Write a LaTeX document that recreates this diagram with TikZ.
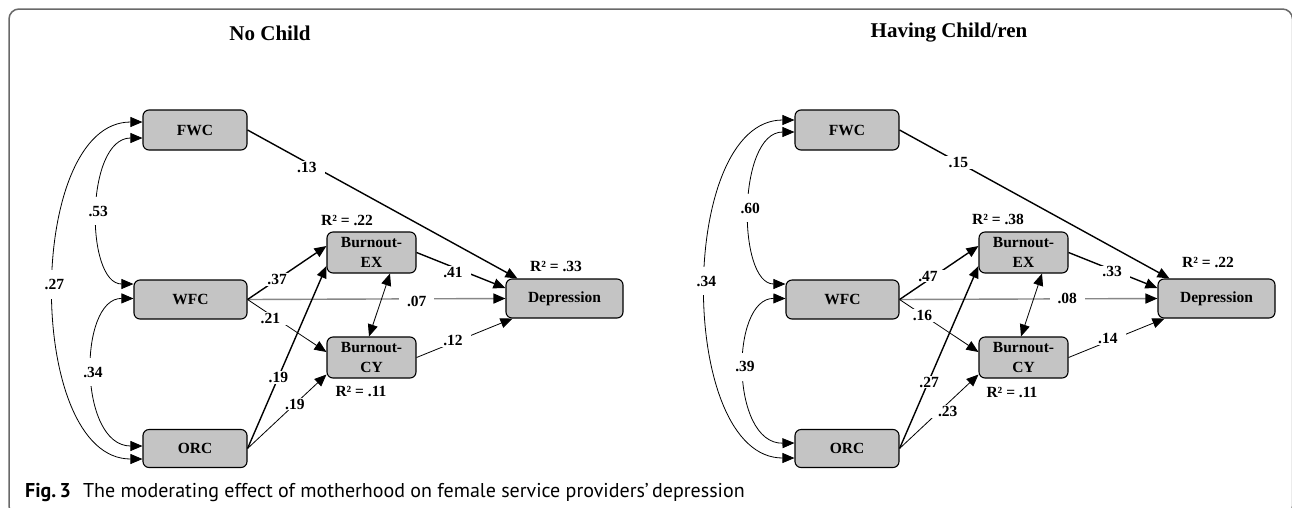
\documentclass[tikz,border=0pt]{standalone}
\usepackage{fontspec}
\setmainfont{Liberation Serif}
\newfontfamily\capfont{PT Sans}
\usetikzlibrary{arrows.meta,calc}
\definecolor{boxgray}{RGB}{196,196,196}
\definecolor{framegray}{RGB}{105,105,105}
\definecolor{linegray}{RGB}{135,135,135}
\tikzset{
  var/.style={draw, line width=1.1pt, fill=boxgray, rounded corners=6pt, inner sep=0pt,
    align=center, font=\fontsize{15.5}{19.5}\selectfont\bfseries},
  lbl/.style={fill=white, inner xsep=8pt, inner ysep=1pt, font=\fontsize{15.5}{17}\selectfont\bfseries},
  clbl/.style={fill=white, inner xsep=1pt, inner ysep=9pt, font=\fontsize{15.5}{17}\selectfont\bfseries},
  rsq/.style={inner sep=0pt, font=\fontsize{15.5}{17}\selectfont\bfseries},
  ttl/.style={inner sep=0pt, font=\fontsize{21}{24}\selectfont\bfseries},
  tipend/.style={-{Triangle[length=12pt,width=10pt]}},
  tipboth/.style={{Triangle[length=12pt,width=10pt]}-{Triangle[length=12pt,width=10pt]}},
  thinpath/.style={line width=0.8pt},
  thickpath/.style={line width=1.4pt},
}
\begin{document}
\begin{tikzpicture}[x=1pt,y=-1pt]
\clip (0,0) rectangle (1292,507);
\fill[white] (0,0) rectangle (1292,507);
\draw[framegray, line width=1.5pt, rounded corners=10pt] (9,9) rectangle (1292.5,516);

% ---------- Left panel ----------
\node[ttl] (Lt) at (270,33) {No Child};
\node[var, minimum width=104pt, minimum height=40pt] (LF) at (195,130) {FWC};
\node[var, minimum width=113pt, minimum height=39pt] (LW) at (190.5,299.5) {WFC};
\node[var, minimum width=104pt, minimum height=38pt] (LO) at (195,448.5) {ORC};
\node[var, minimum width=89pt, minimum height=41pt] (LE) at (371.5,252.5) {Burnout-\\EX};
\node[var, minimum width=89pt, minimum height=41pt] (LC) at (371.5,357.5) {Burnout-\\CY};
\node[var, minimum width=117pt, minimum height=39pt] (LD) at (564.5,298.5) {Depression};
\node[rsq] (LrE) at (347,220) {R² = .22};
\node[rsq] (LrD) at (556,266) {R² = .33};
\node[rsq] (LrC) at (361,391) {R² = .11};

\draw[thickpath, tipend] (LF.east) -- ($(LD.north west)+(12,0)$) node[lbl, pos=0.22, yshift=-5pt] {.13};
\draw[thickpath, tipend] (LE.east) -- ($(LD.west)+(0,-10.5)$) node[lbl, pos=0.41, yshift=-5pt] {.41};
\draw[thickpath, draw=linegray, -{Triangle[length=12pt,width=10pt,black]}] (LW.east) -- (LD.west) node[lbl, pos=0.656, yshift=-3pt] {.07};
\draw[thinpath, tipend] (LC.east) -- ($(LD.south west)+(7,0)$) node[lbl, pos=0.38, yshift=2pt] {.12};
\draw[thinpath, tipboth] ($(LE.south)+(18.5,0)$) -- ($(LC.north)+(-2.5,0)$);
\draw[thickpath, tipend] (LW.east) -- ($(LE.west)+(0,-6.5)$) node[lbl, pos=0.375] {.37};
\draw[thinpath, tipend] (LW.east) -- ($(LC.west)+(0,-5.5)$) node[lbl, pos=0.29, yshift=-4pt] {.21};
\draw[thickpath, tipend] (LO.east) -- ($(LE.west)+(0,13.5)$) node[lbl, pos=0.39] {.19};
\draw[thinpath, tipend] (LO.east) -- ($(LC.south west)+(0,-4)$) node[lbl, pos=0.6] {.19};

\draw[thinpath, tipboth] ($(LF.west)+(0,8)$) .. controls (85,138) and (85,284) .. ($(LW.west)+(0,-15.5)$) node[clbl, pos=0.5] {.53};
\draw[thinpath, tipboth] ($(LW.west)+(0,-1)$) .. controls (78,298) and (78,446) .. ($(LO.west)+(0,-2.5)$) node[clbl, pos=0.5] {.34};
\draw[thinpath, tipboth] ($(LF.west)+(0,-8)$) .. controls (25,122) and (25,459) .. ($(LO.west)+(0,10.5)$) node[clbl, pos=0.5, yshift=6pt] {.27};

% ---------- Right panel ----------
\begin{scope}[xshift=652pt]
\node[ttl] (Rt) at (297,33) {Having Child/ren};
\node[var, minimum width=104pt, minimum height=40pt] (RF) at (195,130) {FWC};
\node[var, minimum width=113pt, minimum height=39pt] (RW) at (190.5,299.5) {WFC};
\node[var, minimum width=104pt, minimum height=38pt] (RO) at (195,448.5) {ORC};
\node[var, minimum width=89pt, minimum height=41pt] (RE) at (371.5,252.5) {Burnout-\\EX};
\node[var, minimum width=89pt, minimum height=41pt] (RC) at (371.5,357.5) {Burnout-\\CY};
\node[var, minimum width=117pt, minimum height=39pt] (RD) at (564.5,298.5) {Depression};
\node[rsq] (RrE) at (346,219) {R² = .38};
\node[rsq] (RrD) at (556,262) {R² = .22};
\node[rsq] (RrC) at (360,392) {R² = .11};

\draw[thickpath, tipend] (RF.east) -- ($(RD.north west)+(12,0)$) node[lbl, pos=0.218] {.15};
\draw[thickpath, tipend] (RE.east) -- ($(RD.west)+(0,-10.5)$) node[lbl, pos=0.49, yshift=-2pt] {.33};
\draw[thickpath, draw=linegray, -{Triangle[length=12pt,width=10pt,black]}] (RW.east) -- (RD.west) node[lbl, pos=0.65] {.08};
\draw[thinpath, tipend] (RC.east) -- ($(RD.south west)+(7,0)$) node[lbl, pos=0.41, yshift=3pt] {.14};
\draw[thinpath, tipboth] ($(RE.south)+(18.5,0)$) -- ($(RC.north)+(-2.5,0)$);
\draw[thickpath, tipend] (RW.east) -- ($(RE.west)+(0,-6.5)$) node[lbl, pos=0.36, yshift=4pt] {.47};
\draw[thinpath, tipend] (RW.east) -- ($(RC.west)+(0,-5.5)$) node[lbl, pos=0.29, yshift=-1pt] {.16};
\draw[thickpath, tipend] (RO.east) -- ($(RE.west)+(0,13.5)$) node[lbl, pos=0.375, yshift=-2pt] {.27};
\draw[thinpath, tipend] (RO.east) -- ($(RC.south west)+(0,-4)$) node[lbl, pos=0.61, yshift=-8pt] {.23};

\draw[thinpath, tipboth] ($(RF.west)+(0,2)$) .. controls (85,132) and (85,284) .. ($(RW.west)+(0,-15.5)$) node[clbl, pos=0.5] {.60};
\draw[thinpath, tipboth] ($(RW.west)+(0,-1)$) .. controls (78,298) and (78,444) .. ($(RO.west)+(0,-5.5)$) node[clbl, pos=0.5, yshift=4pt] {.39};
\draw[thinpath, tipboth] ($(RF.west)+(0,-10)$) .. controls (25,120) and (25,458) .. ($(RO.west)+(0,9.5)$) node[clbl, pos=0.5, yshift=8pt] {.34};
\end{scope}

% ---------- Caption ----------
\node[anchor=base west, inner sep=0pt, font=\capfont\fontsize{20}{24}\selectfont] (cap) at (25,497)
  {\textbf{Fig.\,3}\hspace{12pt}The moderating effect of motherhood on female service providers’\,depression};
\end{tikzpicture}
\end{document}
